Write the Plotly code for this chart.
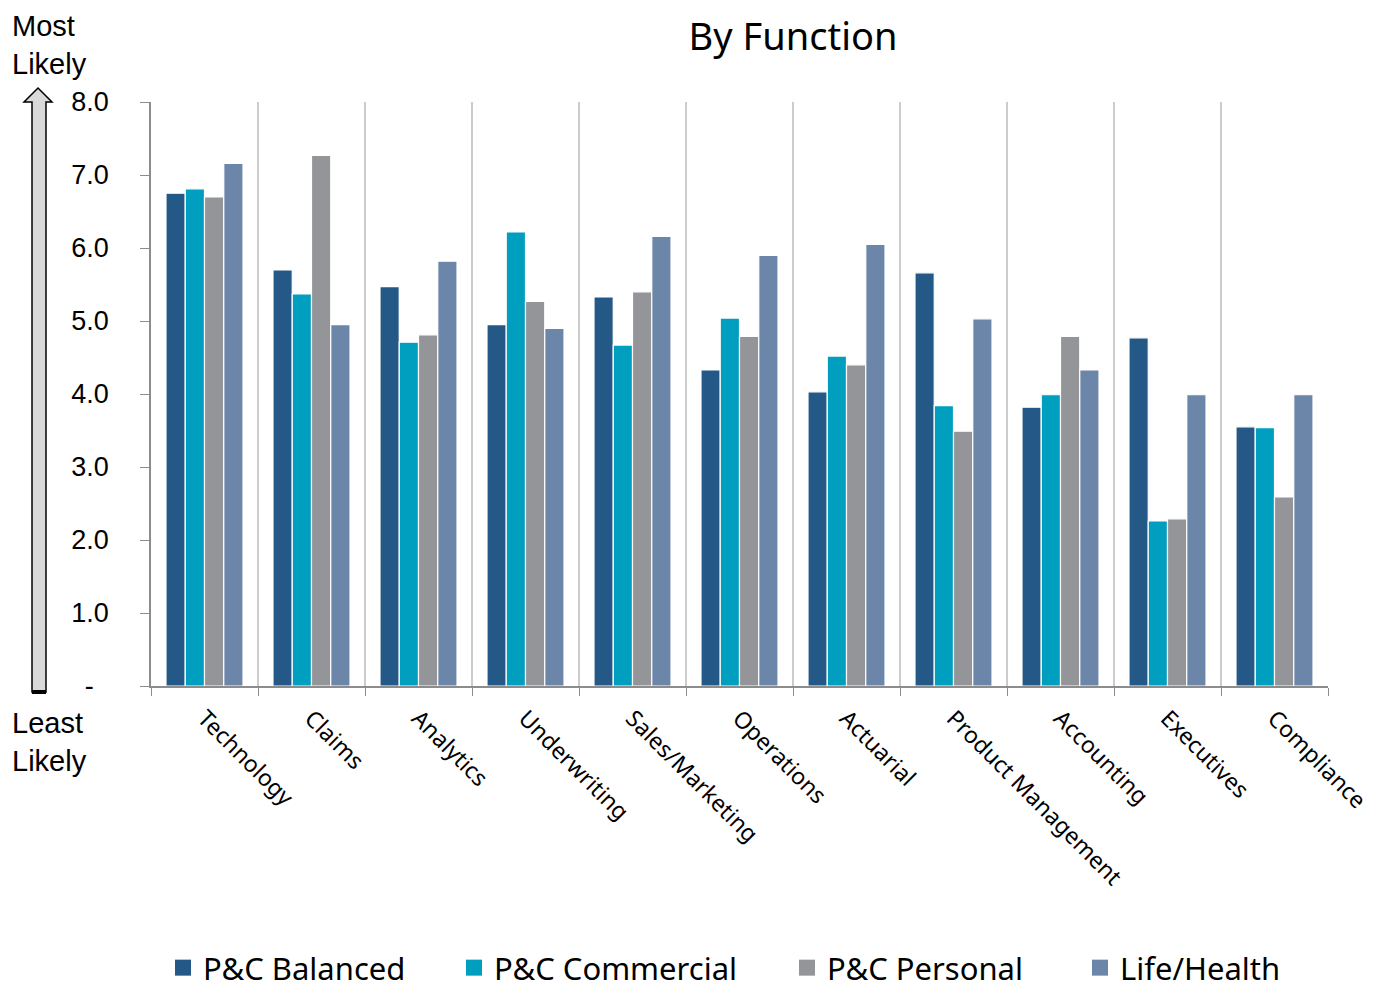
import plotly.graph_objects as go

categories = ["Technology", "Claims", "Analytics", "Underwriting", "Sales/Marketing",
              "Operations", "Actuarial", "Product Management", "Accounting",
              "Executives", "Compliance"]
pc_balanced = [6.75, 5.70, 5.47, 4.95, 5.33, 4.33, 4.03, 5.66, 3.82, 4.77, 3.55]
pc_commercial = [6.81, 5.37, 4.71, 6.22, 4.67, 5.04, 4.52, 3.84, 3.99, 2.26, 3.54]
pc_personal = [6.70, 7.27, 4.81, 5.27, 5.40, 4.79, 4.40, 3.49, 4.79, 2.29, 2.59]
life_health = [7.16, 4.95, 5.82, 4.90, 6.16, 5.90, 6.05, 5.03, 4.33, 3.99, 3.99]

series_names = ["P&C Balanced", "P&C Commercial", "P&C Personal", "Life/Health"]
series_values = [pc_balanced, pc_commercial, pc_personal, life_health]
series_colors = ["#245886", "#009fc0", "#939598", "#6c86aa"]
legend_widths = [246, 288, 248, 175]

y_tickvals = [0, 1, 2, 3, 4, 5, 6, 7, 8]
y_ticktext = ["-\u00a0\u00a0", "1.0", "2.0", "3.0", "4.0", "5.0", "6.0", "7.0", "8.0"]

OFF = 8  # page body margin
W, H = 1376 - 2 * OFF, 998 - 2 * OFF
# target plot area in viewport pixels: x 151..1328, y 102..686
L = 151 - OFF
T = 102 - OFF
R = W - (1328 - OFF)
B = H - (686 - OFF)
pw, ph = W - L - R, H - T - B


def px(x):
    return (x - OFF - L) / pw


def py(y):
    return (H - B - (y - OFF)) / ph


fig = go.Figure()
for name, vals, col in zip(series_names, series_values, series_colors):
    fig.add_trace(go.Bar(
        x=categories, y=vals, name=name, showlegend=False, legendgroup=name,
        marker=dict(color=col, line=dict(color="white", width=1.2)),
    ))
for name, col, lw in zip(series_names, series_colors, legend_widths):
    fig.add_trace(go.Scatter(
        x=[None], y=[None], mode="markers", name=name, legendgroup=name,
        legendwidth=lw,
        marker=dict(symbol="square", size=16, color=col),
    ))

# arrow on the left
ax0, ax1 = px(32), px(46)
hx0, hx1 = px(24), px(52)
tipx = px(38)
tipy = py(88)
hb = py(102)
bot = py(692)
path = (f"M {ax0},{bot} L {ax0},{hb} L {hx0},{hb} L {tipx},{tipy} L {hx1},{hb} "
        f"L {ax1},{hb} L {ax1},{bot} Z")

fig.update_layout(
    width=W, height=H,
    margin=dict(l=L, r=R, t=T, b=B, autoexpand=False),
    paper_bgcolor="white", plot_bgcolor="white",
    barmode="group", bargap=0.28, bargroupgap=0.0,
    font=dict(family="Noto Sans", color="black"),
    title=dict(text="By Function", xref="paper", x=px(793), xanchor="center",
               yref="container", y=1 - (37 - OFF) / H, yanchor="middle",
               font=dict(size=38, family="Noto Sans", color="black")),
    xaxis=dict(
        type="category", tickangle=45, ticks="outside", tickson="boundaries",
        ticklen=8, tickcolor="#8c8c8c", showline=True, linecolor="#8c8c8c", linewidth=1.5,
        showgrid=True, gridcolor="#cccccc", gridwidth=1.5, automargin=False,
        ticklabelstandoff=8,
        tickfont=dict(size=23, family="Noto Sans", color="black"),
        range=[-0.5, 10.5],
    ),
    yaxis=dict(
        range=[0, 8], tickvals=y_tickvals, ticktext=y_ticktext,
        ticks="outside", ticklen=9, tickcolor="#8c8c8c",
        showline=True, linecolor="#8c8c8c", linewidth=1.5,
        showgrid=False, zeroline=False, automargin=False,
        ticklabelstandoff=26,
        tickfont=dict(size=27, family="Liberation Sans", color="black"),
    ),
    legend=dict(orientation="h", x=px(163), xanchor="left", y=py(968), yanchor="middle",
                font=dict(size=31, family="Noto Sans", color="black"),
                itemwidth=30, traceorder="normal"),
    shapes=[
        dict(type="path", path=path, xref="paper", yref="paper",
             fillcolor="#d9d9d9", line=dict(color="black", width=1.5), layer="above"),
        dict(type="line", xref="paper", yref="paper", x0=ax0, x1=ax1, y0=bot, y1=bot,
             line=dict(color="black", width=4)),
    ],
    annotations=[
        dict(text="Most<br>Likely", xref="paper", yref="paper", x=px(10), y=py(8),
             xanchor="left", yanchor="top", align="left", showarrow=False,
             font=dict(size=29, family="Liberation Sans", color="black")),
        dict(text="Least<br>Likely", xref="paper", yref="paper", x=px(10), y=py(705),
             xanchor="left", yanchor="top", align="left", showarrow=False,
             font=dict(size=29, family="Liberation Sans", color="black")),
    ],
)

fig.write_html("out.html")
